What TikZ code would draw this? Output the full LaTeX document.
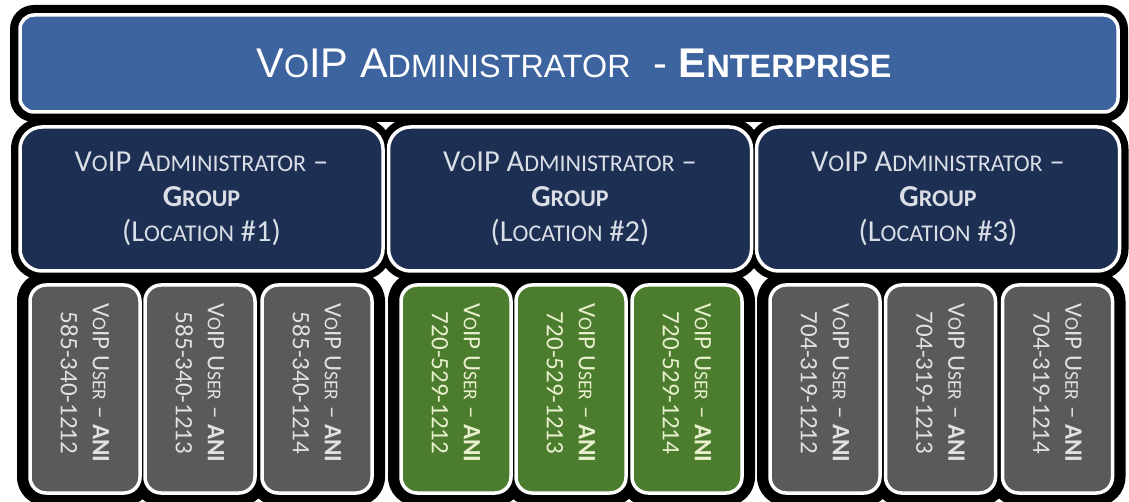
\documentclass[tikz,border=0pt]{standalone}
\usepackage{fontspec}
\setmainfont{Carlito}
\newfontfamily\titlefont{Liberation Sans}
% faked small capitals at three sizes
\newcommand\ttlsc[1]{{\fontsize{32.3}{32.3}\selectfont #1}}
\newcommand\grpsc[1]{{\fontsize{24}{24}\selectfont #1}}
\newcommand\usrsc[1]{{\fontsize{19.5}{19.5}\selectfont #1}}
\definecolor{entblue}{RGB}{62,100,160}
\definecolor{grpnavy}{RGB}{29,47,82}
\definecolor{grptext}{RGB}{218,222,230}
\definecolor{usergray}{RGB}{90,90,90}
\definecolor{usertext}{RGB}{225,225,225}
\definecolor{usergreen}{RGB}{76,124,46}
\definecolor{greentext}{RGB}{232,240,205}
\begin{document}
\begin{tikzpicture}[x=1pt,y=-1pt,
  halo/.style={rectangle, fill=black, draw=none, inner sep=0pt},
  panel/.style={rectangle, draw=white, line width=3.5pt, inner sep=0pt, align=center},
  entbox/.style={panel, fill=entblue, text=white, minimum width=1098pt, minimum height=97pt,
    rounded corners=14pt, font=\titlefont\fontsize{41.5}{48}\selectfont},
  grpbox/.style={panel, fill=grpnavy, text=grptext, minimum width=363pt, minimum height=144pt,
    rounded corners=22pt, font=\fontsize{30.5}{35}\selectfont},
  userbox/.style={panel, rotate=-90, minimum width=208pt, minimum height=110pt,
    rounded corners=16pt, font=\fontsize{25}{32}\selectfont},
]
\useasboundingbox[fill=white] (0,0) rectangle (1129,502);

% black surrounds behind every panel
\node[halo, minimum width=1118pt, minimum height=117pt, rounded corners=24pt] (hent) at (569,63.5) {};
\foreach \n/\cx in {1/201.5, 2/570, 3/938}
  \node[halo, minimum width=381pt, minimum height=162pt, rounded corners=31pt] (hg\n) at (\cx,199) {};
\foreach \n/\cx in {1/85, 2/200, 3/317, 4/456, 5/571, 6/687, 7/825, 8/940.5, 9/1057.5}
  \node[halo, minimum width=136pt, minimum height=234pt, rounded corners=29pt] (hu\n) at (\cx,389) {};

% enterprise administrator
\node[entbox] (ent) at (569,63.5)
  {\hspace*{10pt}V\ttlsc{O}IP A\ttlsc{DMINISTRATOR}\ \ - \textbf{E\ttlsc{NTERPRISE}}};

% group administrators
\foreach \n/\cx in {1/201.5, 2/570, 3/938}
  \node[grpbox] (g\n) at (\cx,199)
    {\raisebox{4pt}{V\grpsc{O}IP A\grpsc{DMINISTRATOR} --}\\
     \raisebox{4pt}{\textbf{G\grpsc{ROUP}}}\\
     \raisebox{4pt}{(L\grpsc{OCATION} \#\n)}};

% users
\foreach \n/\cx/\fc/\tc/\num in {
    1/85/usergray/usertext/585-340-1212,
    2/200/usergray/usertext/585-340-1213,
    3/317/usergray/usertext/585-340-1214,
    4/456/usergreen/greentext/720-529-1212,
    5/571/usergreen/greentext/720-529-1213,
    6/687/usergreen/greentext/720-529-1214,
    7/825/usergray/usertext/704-319-1212,
    8/940.5/usergray/usertext/704-319-1213,
    9/1057.5/usergray/usertext/704-319-1214}
  \node[userbox, fill=\fc, text=\tc] (u\n) at (\cx,389)
    {V\usrsc{O}IP U\usrsc{SER} -- \textbf{ANI}\hspace*{12pt}\\ \num\hspace*{12pt}};
\end{tikzpicture}
\end{document}
